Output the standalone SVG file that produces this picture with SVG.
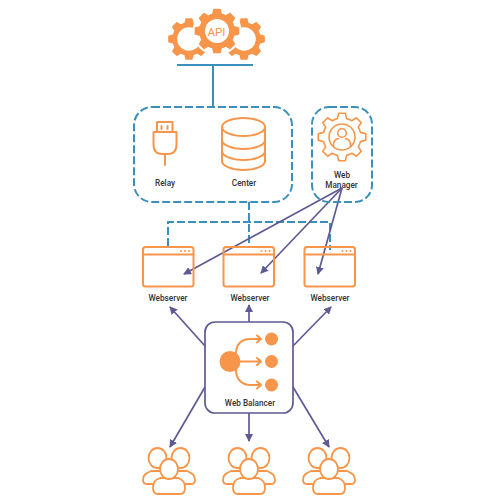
<svg xmlns="http://www.w3.org/2000/svg" width="500" height="500" viewBox="0 0 500 500">
<style>
text{font-family:"Roboto","Liberation Sans",sans-serif;font-size:8.200px;font-weight:500;fill:#333;text-anchor:middle}
.o{fill:none;stroke:#f7964a;stroke-width:2;stroke-linecap:round;stroke-linejoin:round}
.t{fill:none;stroke:#f7964a;stroke-width:1.600;stroke-linecap:round;stroke-linejoin:round}
.ow{fill:#fff;stroke:#f7964a;stroke-width:1.800;stroke-linejoin:round}
.of{fill:#f7964a}
.g{fill:#f7964a;stroke:#f7964a;stroke-width:2;stroke-linejoin:round}
.b{fill:none;stroke:#3a8fbc;stroke-width:2}
.d{fill:none;stroke:#3a8fbc;stroke-width:2;stroke-dasharray:8 3}
.p{fill:none;stroke:#5f5a94;stroke-width:1.700;marker-end:url(#ah)}
</style>
<defs>
<marker id="ah" markerUnits="userSpaceOnUse" markerWidth="10" markerHeight="10" refX="7" refY="4" orient="auto"><path d="M0 0L8 4L0 8Z" fill="#5f5a94"/></marker>
<path id="gear" d="M18.400-4.600L23.800-3.300V3.300L18.400 4.600A19 19 0 0 1 16.300 9.800L19.200 14.400L14.400 19.200L9.800 16.300A19 19 0 0 1 4.600 18.400L3.300 23.800H-3.300L-4.600 18.400A19 19 0 0 1-9.800 16.300L-14.400 19.200L-19.200 14.400L-16.300 9.800A19 19 0 0 1-18.400 4.600L-23.800 3.300V-3.300L-18.400-4.600A19 19 0 0 1-16.300-9.800L-19.200-14.400L-14.400-19.200L-9.800-16.300A19 19 0 0 1-4.600-18.400L-3.300-23.800H3.300L4.600-18.400A19 19 0 0 1 9.800-16.300L14.400-19.200L19.200-14.400L16.300-9.800A19 19 0 0 1 18.400-4.600Z"/>
<g id="ws"><rect class="o" x="0" y="0" width="50.500" height="39.500" rx="2.500"/><path class="o" d="M0 7.500H50.500"/><circle class="of" cx="38" cy="3.900" r="1"/><circle class="of" cx="42" cy="3.900" r="1"/><circle class="of" cx="46" cy="3.900" r="1"/></g>
<g id="ppl"><path class="ow" d="M-18 13C-22 15-26 16-26 22Q-26 26-22 26H22Q26 26 26 22C26 16 22 15 18 13Z"/><ellipse class="ow" cx="-11.500" cy="0" rx="9" ry="10"/><ellipse class="ow" cx="11.500" cy="0" rx="9" ry="10"/><path class="ow" d="M-9 20C-14 22-16 24-16 30Q-16 36-11 36H11Q16 36 16 30C16 24 14 22 9 20Z"/><ellipse class="ow" cx="0" cy="11" rx="9" ry="10"/></g>
</defs>
<rect width="500" height="500" fill="#fff"/>
<g id="connectors">
<path class="b" d="M177 65H253M213 65V106"/>
<path class="d" d="M249 202V246M168 246V222H330V250"/>
<path class="p" d="M342 188L184 274"/>
<path class="p" d="M342 188L261 273"/>
<path class="p" d="M342 188L318 274"/>
<path class="p" d="M205 346L170 307"/>
<path class="p" d="M249 322V305"/>
<path class="p" d="M293 346L331 307"/>
<path class="p" d="M205 387L170 447"/>
<path class="p" d="M249 413V441"/>
<path class="p" d="M293 387L329 447"/>
</g>
<g id="api">
<use href="#gear" transform="translate(189 39) scale(.84)" class="g"/>
<circle cx="189" cy="39" r="11.800" fill="#fff"/>
<use href="#gear" transform="translate(244 39) scale(.84)" class="g"/>
<circle cx="244" cy="39" r="11.800" fill="#fff"/>
<circle cx="217" cy="31" r="24.500" fill="#fff"/>
<use href="#gear" transform="translate(217 31) scale(.9)" class="g"/>
<circle cx="217" cy="31" r="12" fill="#fff"/>
<text x="216.500" y="35.500" style="font-size:11.500px;font-weight:400;fill:#f7964a">API</text>
</g>
<g id="services"><rect class="d" x="134" y="107" width="158" height="95" rx="18"/>
<g id="relay"><rect class="o" x="157" y="122" width="15.500" height="10"/><path class="o" d="M161.500 126V129M167.500 126V129"/><path class="o" d="M153.500 132H176.500V144Q176.500 154 168 154H162Q153.500 154 153.500 144ZM165 154V165"/><text x="165" y="186">Relay</text></g>
<g id="center"><path class="o" d="M222 129V161C222 166 232 170 243.500 170S265 166 265 161V129"/><ellipse class="o" cx="243.500" cy="127" rx="21.500" ry="9"/><path class="o" d="M222 140C222 145 232 149 243.500 149S265 145 265 140M222 151C222 156 232 160 243.500 160S265 156 265 151"/><text x="244" y="186">Center</text></g>
</g>
<g id="web-manager"><rect class="d" x="312" y="107" width="60" height="95" rx="17"/>
<use href="#gear" transform="translate(342 137)" class="t"/>
<circle class="t" cx="342" cy="137" r="13"/><circle class="t" cx="342" cy="133" r="4.300"/><path class="t" d="M333.500 146.500V144Q334 139.500 338.500 138.500M350.500 146.500V144Q350 139.500 345.500 138.500"/>
<text x="342" y="178">Web</text><text x="341.500" y="187.700">Manager</text></g>
<g id="webserver-1"><use href="#ws" x="143" y="247"/><text x="168" y="301">Webserver</text></g>
<g id="webserver-2"><use href="#ws" x="223.500" y="247"/><text x="250" y="301">Webserver</text></g>
<g id="webserver-3"><use href="#ws" x="304.500" y="247"/><text x="330" y="301">Webserver</text></g>
<g id="web-balancer"><rect x="205" y="322" width="88" height="91" rx="10" fill="#fff" stroke="#5f5a94" stroke-width="1.700"/>
<circle class="of" cx="230" cy="361.500" r="10.500"/><circle class="of" cx="271.500" cy="339" r="6.500"/><circle class="of" cx="271.500" cy="361.500" r="6.500"/><circle class="of" cx="271.500" cy="385" r="6.500"/>
<path class="o" d="M236 353C236 343 243 339 250 339H260M257 335.500L261 339L257 342.500M238 361.500H260M257 358L261 361.500L257 365M236 370C236 380 243 385 250 385H260M257 381.500L261 385L257 388.500"/>
<text x="250" y="406">Web Balancer</text></g>
<g id="users-1"><use href="#ppl" x="169" y="458"/></g>
<g id="users-2"><use href="#ppl" x="249" y="458"/></g>
<g id="users-3"><use href="#ppl" x="329" y="458"/></g>
</svg>
